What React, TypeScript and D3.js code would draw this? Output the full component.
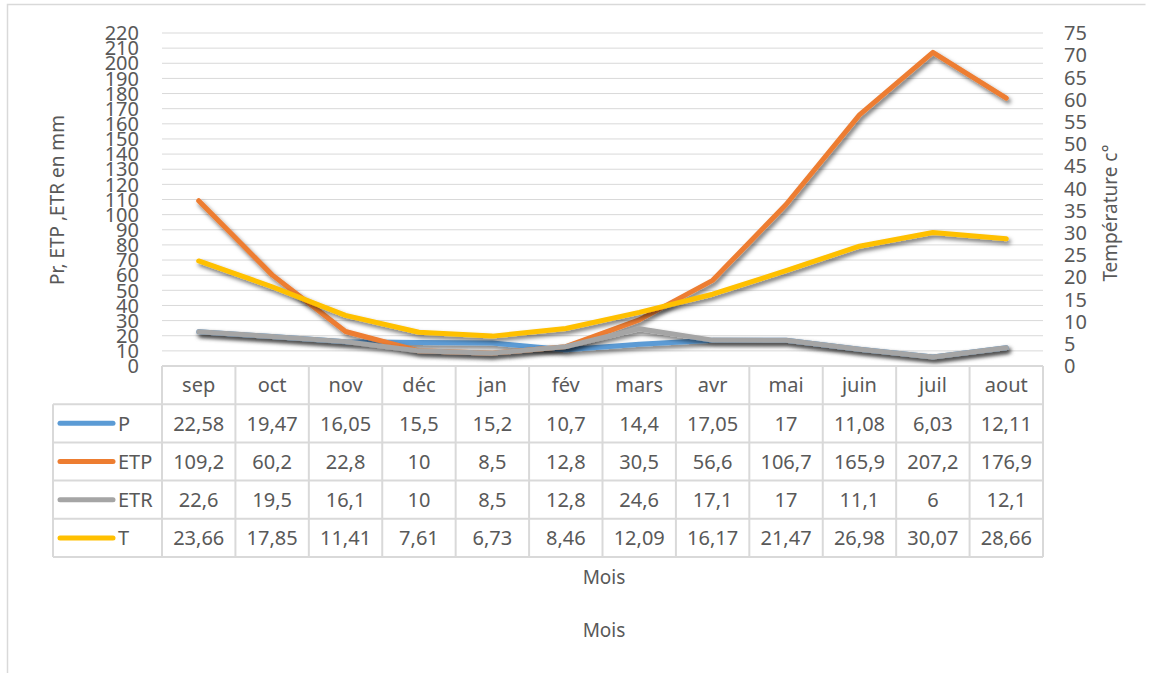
import React from 'react';
import * as d3 from 'd3';

// Mois (catégories)
const months = ['sep', 'oct', 'nov', 'déc', 'jan', 'fév', 'mars', 'avr', 'mai', 'juin', 'juil', 'aout'];

// Séries (mm) – axe gauche
const pValues = [22.58, 19.47, 16.05, 15.5, 15.2, 10.7, 14.4, 17.05, 17, 11.08, 6.03, 12.11];
const etpValues = [109.2, 60.2, 22.8, 10, 8.5, 12.8, 30.5, 56.6, 106.7, 165.9, 207.2, 176.9];
const etrValues = [22.6, 19.5, 16.1, 10, 8.5, 12.8, 24.6, 17.1, 17, 11.1, 6, 12.1];
// Température (°C) – axe droit
const tValues = [23.66, 17.85, 11.41, 7.61, 6.73, 8.46, 12.09, 16.17, 21.47, 26.98, 30.07, 28.66];

const leftTicks = d3.range(0, 221, 10);
const rightTicks = d3.range(0, 76, 5);

const series = [
  { name: 'P', values: pValues, color: '#5B9BD5', axis: 'left' },
  { name: 'ETP', values: etpValues, color: '#ED7D31', axis: 'left' },
  { name: 'ETR', values: etrValues, color: '#A5A5A5', axis: 'left' },
  { name: 'T', values: tValues, color: '#FFC000', axis: 'right' },
];

const W = 1151;
const H = 673;
const FONT = '"Noto Sans", sans-serif';
const TXT = '#595959';
const GRID = '#d9d9d9';

export default function App() {
  // plot area
  const left = 162;
  const right = 1043;
  const top = 33;
  const bottom = 366;

  const x = d3.scaleBand<string>().domain(months).range([left, right]).padding(0);
  const yLeft = d3.scaleLinear().domain([0, 220]).range([bottom, top]);
  const yRight = d3.scaleLinear().domain([0, 75]).range([bottom, top]);
  const cx = (m: string) => (x(m) as number) + x.bandwidth() / 2;

  // data table geometry
  const rowH = 38.2;
  const headerBottom = bottom + rowH;
  const legendLeft = 53;
  const rowYs = series.map((_, i) => headerBottom + i * rowH);
  const tableBottom = headerBottom + series.length * rowH;

  const fmt = (v: number) => String(v).replace('.', ',');

  return (
    <svg width={W} height={H} style={{ position: 'absolute', left: 0, top: 0, background: '#fff' }}>
      <defs>
        <filter id="shadow" x="-10%" y="-20%" width="120%" height="160%">
          <feDropShadow dx="2" dy="3" stdDeviation="2.2" floodColor="#000" floodOpacity="0.55" />
        </filter>
      </defs>

      {/* chart border */}
      <path d={`M7.5,${H} V4.5 H1145.5`} fill="none" stroke={GRID} strokeWidth={1.5} />

      {/* gridlines */}
      {leftTicks.filter(t => t > 0).map(t => (
        <line key={t} x1={left} x2={right} y1={yLeft(t)} y2={yLeft(t)} stroke={GRID} strokeWidth={1} />
      ))}

      {/* left ticks */}
      {leftTicks.map(t => (
        <text key={t} x={139} y={yLeft(t)} dy="0.36em" textAnchor="end" fontFamily={FONT} fontSize={20} fill={TXT}>
          {t}
        </text>
      ))}

      {/* right ticks */}
      {rightTicks.map(t => (
        <text key={t} x={1064} y={yRight(t)} dy="0.36em" textAnchor="start" fontFamily={FONT} fontSize={20} fill={TXT}>
          {t}
        </text>
      ))}

      {/* axis titles */}
      <text transform={`translate(64,${200}) rotate(-90)`} textAnchor="middle" fontFamily={FONT} fontSize={19} fill={TXT}>
        Pr, ETP ,ETR en mm
      </text>
      <text transform={`translate(1117,${213}) rotate(-90)`} textAnchor="middle" fontFamily={FONT} fontSize={19} fill={TXT}>
        Température c°
      </text>

      {/* lines */}
      {series.map(s => {
        const y = s.axis === 'left' ? yLeft : yRight;
        const line = d3.line<number>()
          .x((_, i) => cx(months[i]))
          .y(v => y(v));
        return (
          <path key={s.name} d={line(s.values) || ''} fill="none" stroke={s.color} strokeWidth={5}
            strokeLinecap="round" strokeLinejoin="round" filter="url(#shadow)" />
        );
      })}

      {/* data table */}
      <g stroke={GRID} strokeWidth={2} fill="none">
        <line x1={left} x2={right} y1={bottom} y2={bottom} />
        {[headerBottom, ...rowYs.slice(1), tableBottom].map((yy, i) => (
          <line key={i} x1={legendLeft} x2={right} y1={yy} y2={yy} />
        ))}
        <line x1={legendLeft} x2={legendLeft} y1={headerBottom} y2={tableBottom} />
        {months.map(m => (
          <line key={m} x1={x(m)} x2={x(m)} y1={bottom} y2={tableBottom} />
        ))}
        <line x1={right} x2={right} y1={bottom} y2={tableBottom} />
      </g>

      {months.map(m => (
        <text key={m} x={cx(m)} y={bottom + rowH / 2} dy="0.36em" textAnchor="middle" fontFamily={FONT} fontSize={20} fill={TXT}>
          {m}
        </text>
      ))}

      {series.map((s, i) => (
        <g key={s.name}>
          <line x1={60} x2={113} y1={rowYs[i] + rowH / 2} y2={rowYs[i] + rowH / 2} stroke={s.color} strokeWidth={5} strokeLinecap="round" />
          <text x={118} y={rowYs[i] + rowH / 2} dy="0.36em" fontFamily={FONT} fontSize={20} fill={TXT}>
            {s.name}
          </text>
          {s.values.map((v, j) => (
            <text key={j} x={cx(months[j])} y={rowYs[i] + rowH / 2} dy="0.36em" textAnchor="middle" fontFamily={FONT} fontSize={20} fill={TXT}>
              {fmt(v)}
            </text>
          ))}
        </g>
      ))}

      {/* x axis titles */}
      <text x={604} y={577} dy="0.36em" textAnchor="middle" fontFamily={FONT} fontSize={19} fill={TXT}>Mois</text>
      <text x={604} y={630} dy="0.36em" textAnchor="middle" fontFamily={FONT} fontSize={19} fill={TXT}>Mois</text>
    </svg>
  );
}
